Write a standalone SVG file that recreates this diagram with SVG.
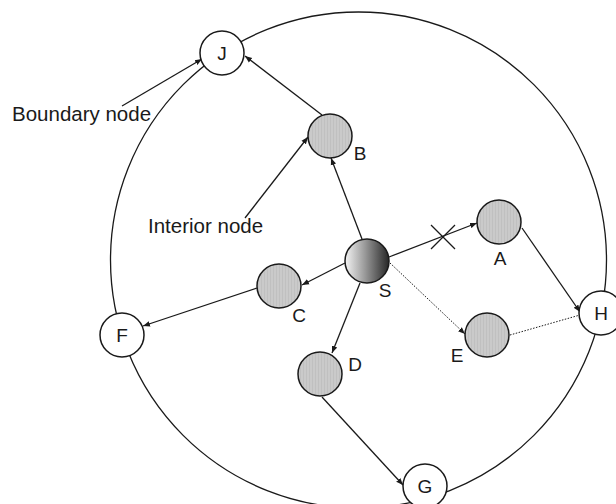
<svg xmlns="http://www.w3.org/2000/svg" width="616" height="504" viewBox="0 0 616 504">
<style>
.edge{stroke:#1a1a1a;stroke-width:1.3;fill:none}
.dot{stroke:#1a1a1a;stroke-width:1;stroke-dasharray:1.5 1.5;fill:none}
.bnd{fill:#fff;stroke:#1a1a1a;stroke-width:1.5}
.int{fill:url(#stripes);stroke:#1a1a1a;stroke-width:1.5}
.lbl{font-family:"Liberation Sans",Arial,sans-serif;font-size:19px;fill:#1a1a1a;text-anchor:middle}
.note{font-family:"Liberation Sans",Arial,sans-serif;font-size:20.5px;fill:#1a1a1a}
</style>
<defs>
<marker id="arr" viewBox="0 0 10 10" refX="10" refY="5" markerWidth="7" markerHeight="7" markerUnits="userSpaceOnUse" orient="auto">
<path d="M0,1 L10,5 L0,9 Z" fill="#1a1a1a"/>
</marker>
<pattern id="stripes" width="3" height="4" patternUnits="userSpaceOnUse">
<rect width="3" height="4" fill="#cacaca"/>
<rect width="1" height="4" fill="#c0c0c0"/>
</pattern>
<linearGradient id="sgrad" x1="0" y1="0" x2="1" y2="0">
<stop offset="0" stop-color="#f4f4f4"/>
<stop offset="0.45" stop-color="#9a9a9a"/>
<stop offset="1" stop-color="#262626"/>
</linearGradient>
</defs>
<rect width="616" height="504" fill="#fff"/>
<g id="region">
<circle cx="358.5" cy="260" r="248" fill="none" stroke="#1a1a1a" stroke-width="1.3"/>
</g>
<g id="connectors">
<line class="edge" x1="362" y1="239" x2="331" y2="158" marker-end="url(#arr)"/>
<line class="edge" x1="322" y1="115" x2="245" y2="56" marker-end="url(#arr)"/>
<line class="edge" x1="122" y1="106" x2="202" y2="59" marker-end="url(#arr)"/>
<line class="edge" x1="245" y1="218" x2="308" y2="137" marker-end="url(#arr)"/>
<line class="edge" x1="345" y1="263" x2="302" y2="285" marker-end="url(#arr)"/>
<line class="edge" x1="257" y1="288" x2="143" y2="326" marker-end="url(#arr)"/>
<line class="edge" x1="360" y1="283" x2="332" y2="353" marker-end="url(#arr)"/>
<line class="edge" x1="322" y1="397" x2="403" y2="485" marker-end="url(#arr)"/>
<line class="edge" x1="389" y1="257" x2="477" y2="223" marker-end="url(#arr)"/>
<line class="edge" x1="522" y1="228" x2="580" y2="312" marker-end="url(#arr)"/>
<line class="dot" x1="390" y1="263" x2="465" y2="334" marker-end="url(#arr)"/>
<line class="dot" x1="510" y1="335" x2="580" y2="315"/>
<g id="cross">
<line class="edge" x1="431" y1="225" x2="455" y2="249"/>
<line class="edge" x1="431" y1="249" x2="455" y2="225"/>
</g>
</g>
<g id="J"><circle class="bnd" cx="222" cy="53" r="22"/><text class="lbl" x="222" y="60">J</text></g>
<g id="F"><circle class="bnd" cx="122" cy="335" r="22"/><text class="lbl" x="122" y="342">F</text></g>
<g id="G"><circle class="bnd" cx="425" cy="486" r="22"/><text class="lbl" x="425" y="493">G</text></g>
<g id="H"><circle class="bnd" cx="601" cy="313" r="22"/><text class="lbl" x="601" y="320">H</text></g>
<g id="B"><circle class="int" cx="330" cy="136" r="22"/><text class="lbl" x="360" y="160">B</text></g>
<g id="C"><circle class="int" cx="279" cy="286" r="22"/><text class="lbl" x="299" y="322">C</text></g>
<g id="D"><circle class="int" cx="320" cy="374" r="22"/><text class="lbl" x="355" y="371">D</text></g>
<g id="A"><circle class="int" cx="499" cy="222" r="22"/><text class="lbl" x="500" y="265">A</text></g>
<g id="E"><circle class="int" cx="487" cy="335" r="22"/><text class="lbl" x="457" y="362">E</text></g>
<g id="S"><circle cx="367" cy="261" r="22" fill="url(#sgrad)" stroke="#1a1a1a" stroke-width="1.5"/><text class="lbl" x="385" y="297">S</text></g>
<g id="labels">
<text class="note" x="12" y="121">Boundary node</text>
<text class="note" x="148" y="233">Interior node</text>
</g>
</svg>
